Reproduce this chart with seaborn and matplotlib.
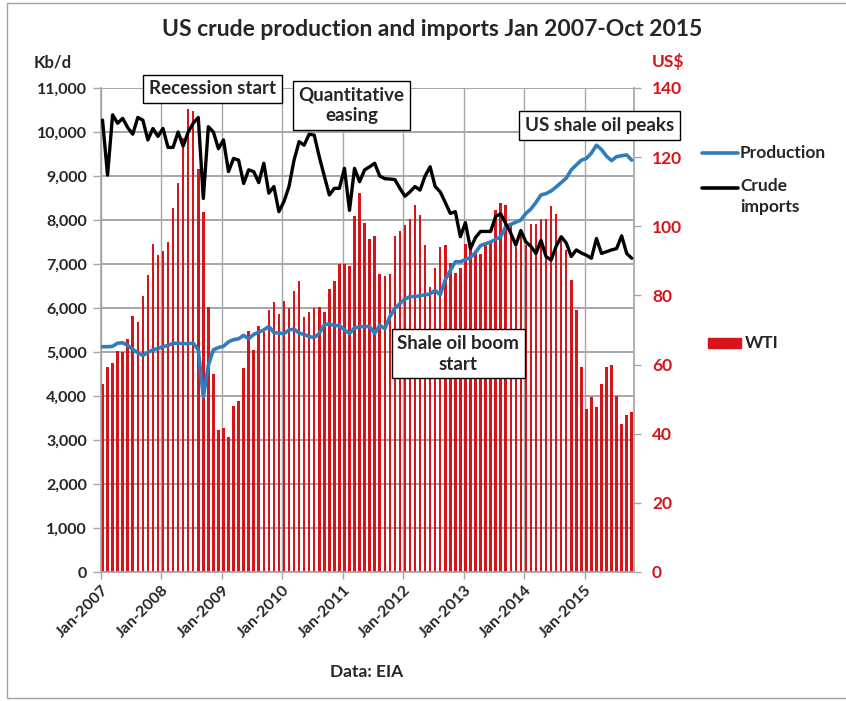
import numpy as np
import pandas as pd
import matplotlib
matplotlib.use("Agg")
import matplotlib.pyplot as plt
import seaborn as sns
from matplotlib.patches import Rectangle
from matplotlib.lines import Line2D
from matplotlib.ticker import FuncFormatter

# Monthly data Jan 2007 - Oct 2015
months = pd.date_range("2007-01-01", "2015-10-01", freq="MS")

production = [
    5120, 5120, 5130, 5200, 5210, 5150, 5060, 4980, 4920, 4990, 5050, 5080,
    5120, 5150, 5200, 5200, 5190, 5190, 5200, 5050, 3980, 4700, 5050, 5100,
    5130, 5230, 5280, 5300, 5380, 5300, 5400, 5450, 5500, 5580, 5440, 5430,
    5420, 5500, 5520, 5430, 5400, 5350, 5330, 5420, 5620, 5640, 5600, 5600,
    5500, 5420, 5550, 5570, 5580, 5580, 5420, 5610, 5530, 5800, 5990, 6100,
    6200, 6260, 6260, 6280, 6300, 6320, 6400, 6300, 6640, 6850, 7050, 7050,
    7100, 7150, 7260, 7420, 7460, 7500, 7560, 7620, 7850, 7900, 7950, 8000,
    8150, 8250, 8400, 8570, 8600, 8660, 8750, 8850, 8950, 9140, 9250, 9360,
    9400, 9520, 9700, 9600, 9450, 9350, 9440, 9460, 9480, 9360,
]

imports = [
    10270, 9020, 10390, 10200, 10310, 10100, 9950, 10330, 10270, 9820, 10080, 9900,
    10080, 9650, 9650, 10000, 9680, 10000, 10200, 10330, 8490, 10120, 10000, 9620,
    9820, 9100, 9400, 9360, 8830, 9140, 9100, 8850, 9290, 8610, 8760, 8190,
    8420, 8760, 9360, 9780, 9700, 9950, 9930, 9440, 9000, 8570, 8720, 8720,
    9175, 8220, 9175, 8870, 9140, 9210, 9290, 9000, 8940, 8930, 8920, 8720,
    8540, 8640, 8760, 8680, 9000, 9210, 8760, 8640, 8400, 8150, 8190, 7620,
    7940, 7350, 7600, 7740, 7740, 7740, 8080, 8140, 7920, 7700, 7430, 7760,
    7500, 7400, 7240, 7540, 7170, 7090, 7400, 7620, 7480, 7170, 7320, 7250,
    7200, 7130, 7580, 7240, 7280, 7320, 7350, 7640, 7240, 7130,
]

wti = [
    54.5, 59.3, 60.4, 64.0, 63.5, 67.5, 74.1, 72.4, 79.9, 85.8, 94.8, 91.7,
    92.9, 95.4, 105.4, 112.6, 125.4, 133.9, 133.4, 116.7, 104.1, 76.6, 57.3, 41.1,
    41.7, 39.1, 47.9, 49.6, 59.0, 69.6, 64.2, 71.1, 69.4, 75.7, 78.0, 74.5,
    78.3, 76.4, 81.2, 84.3, 73.7, 75.3, 76.3, 76.6, 75.2, 81.9, 84.3, 89.2,
    89.2, 88.6, 102.9, 109.5, 100.9, 96.3, 97.3, 86.3, 85.5, 86.3, 97.2, 98.6,
    100.3, 102.2, 106.2, 103.3, 94.7, 82.3, 87.9, 94.1, 94.5, 89.5, 86.5, 87.9,
    94.8, 95.3, 92.9, 92.0, 94.5, 95.8, 104.6, 106.6, 106.3, 100.5, 93.9, 97.6,
    94.6, 100.8, 100.8, 102.1, 102.2, 105.8, 103.6, 96.5, 93.2, 84.4, 75.8, 59.3,
    47.2, 50.6, 47.8, 54.5, 59.3, 59.8, 50.9, 42.9, 45.5, 46.2,
]

year_labels = ["Jan-2007", "Jan-2008", "Jan-2009", "Jan-2010", "Jan-2011",
               "Jan-2012", "Jan-2013", "Jan-2014", "Jan-2015"]

kbd_ticks = list(range(0, 11001, 1000))
usd_ticks = list(range(0, 141, 20))

df = pd.DataFrame({
    "month": months.strftime("%b-%Y"),
    "idx": np.arange(len(months)),
    "Production": production,
    "Crude imports": imports,
    "WTI": wti,
})

sns.set_theme(style="white")
plt.rcParams["font.family"] = ["Lato", "DejaVu Sans"]
plt.rcParams["font.weight"] = "bold"

RED = "#D8141B"
BLUE = "#2E7EBF"
GRID = "#A6A6A6"
KBD_MAX, USD_MAX = 11000, 140
XLIM = (-0.3, 105.45)

fig = plt.figure(figsize=(8.46, 7.01), dpi=100)
ax = fig.add_axes([101 / 846, 1 - 572 / 701, 533 / 846, 484 / 701])

# WTI bars (US$ axis, shown on the right)
sns.barplot(data=df, x="month", y="WTI", ax=ax, color=RED, width=0.5,
            linewidth=0, saturation=1)
ax.set_ylim(0, USD_MAX)
ax.set_yticks(usd_ticks)
ax.set_ylabel("")
ax.set_xlabel("")
ax.set_xlim(*XLIM)
xt = [i - 0.3 for i in range(0, 106, 12)]
ax.set_xticks(xt)
ax.set_xticklabels(year_labels, rotation=45, ha="right", rotation_mode="anchor", fontsize=11.5)
ax.tick_params(axis="x", length=5, width=1, color=GRID, bottom=True, direction="out", pad=3)

# Production and imports (Kb/d axis, shown on the left)
ax2 = ax.twinx()
sns.lineplot(data=df, x="idx", y="Production", ax=ax2, color=BLUE, lw=2.6, zorder=3)
sns.lineplot(data=df, x="idx", y="Crude imports", ax=ax2, color="black", lw=2.4, zorder=3)
ax2.set_ylim(0, KBD_MAX)
ax2.set_yticks(kbd_ticks)
ax2.yaxis.set_major_formatter(FuncFormatter(lambda v, _: f"{int(v):,}"))
ax2.set_ylabel("")
ax2.set_xlabel("")
ax2.set_xlim(*XLIM)

# put each y axis on its own side
ax.yaxis.tick_right()
ax.yaxis.set_label_position("right")
ax2.yaxis.tick_left()
ax2.yaxis.set_label_position("left")
ax.tick_params(axis="y", labelcolor=RED, color=GRID, labelsize=12.5,
               length=5, width=1, direction="out", right=True, left=False,
               labelright=True, labelleft=False, pad=8)
ax2.tick_params(axis="y", labelsize=11.5, length=6, width=1, color=GRID, left=True,
                right=False, labelleft=True, labelright=False, direction="out", pad=4)

# gridlines: vertical at the years, horizontal at the Kb/d ticks (behind the bars)
ax.set_axisbelow(True)
ax.grid(True, axis="x", which="major", color=GRID, lw=1.0)
ax.hlines([t * USD_MAX / KBD_MAX for t in kbd_ticks], *XLIM, colors=GRID,
          linewidths=1.4, zorder=0.6)

for lab in ax.get_yticklabels() + ax.get_xticklabels() + ax2.get_yticklabels():
    lab.set_fontweight("bold")

for a in (ax, ax2):
    for s in a.spines.values():
        s.set_visible(False)
for side in ("left", "bottom", "right"):
    ax.spines[side].set_visible(True)
    ax.spines[side].set_color(GRID)

# Texts
fig.text(432 / 846, 1 - 30 / 701, "US crude production and imports Jan 2007-Oct 2015",
         ha="center", va="center", fontsize=16.5, fontweight="bold")
fig.text(53 / 846, 1 - 62 / 701, "Kb/d", ha="center", va="center", fontsize=12, fontweight="bold")
fig.text(668 / 846, 1 - 62 / 701, "US$", ha="center", va="center", fontsize=12.5,
         fontweight="bold", color=RED)
fig.text(367 / 846, 1 - 672 / 701, "Data: EIA", ha="center", va="center", fontsize=12.5,
         fontweight="bold")

box = dict(boxstyle="square,pad=0.3", fc="white", ec="black", lw=1.0)
ax2.text(21.8, 10980, "Recession start", ha="center", va="center", fontsize=13.5,
         fontweight="bold", bbox=box, zorder=5)
ax2.text(49.4, 10600, "Quantitative\neasing", ha="center", va="center", fontsize=13.5,
         fontweight="bold", bbox=box, linespacing=1.25, zorder=5)
ax2.text(98.6, 10150, "US shale oil peaks", ha="center", va="center", fontsize=13.5,
         fontweight="bold", bbox=box, zorder=5)
ax2.text(70.6, 4960, "Shale oil boom\nstart", ha="center", va="center", fontsize=13.5,
         fontweight="bold", bbox=box, linespacing=1.25, zorder=5)

# Legend, placed entry by entry
def fx(px):
    return px / 846

def fy(py):
    return 1 - py / 701

fig.add_artist(Line2D([fx(702), fx(738)], [fy(153), fy(153)], color=BLUE, lw=2.6))
fig.text(fx(740), fy(153), "Production", ha="left", va="center", fontsize=12.5, fontweight="bold")
fig.add_artist(Line2D([fx(702), fx(738)], [fy(188), fy(188)], color="black", lw=2.6))
fig.text(fx(740), fy(178), "Crude\nimports", ha="left", va="top", fontsize=12.5,
         fontweight="bold", linespacing=1.35)
fig.add_artist(Rectangle((fx(708), fy(348)), fx(33), 10 / 701, transform=fig.transFigure,
                         fc=RED, ec=RED))
fig.text(fx(745), fy(343), "WTI", ha="left", va="center", fontsize=12.5, fontweight="bold")

# Outer chart border
fig.add_artist(Rectangle((7 / 846, 3 / 701), 1.0, 1 - 6 / 701, transform=fig.transFigure,
                         fill=False, ec="#A0A0A0", lw=1.0))

fig.savefig("out.png", dpi=100)
